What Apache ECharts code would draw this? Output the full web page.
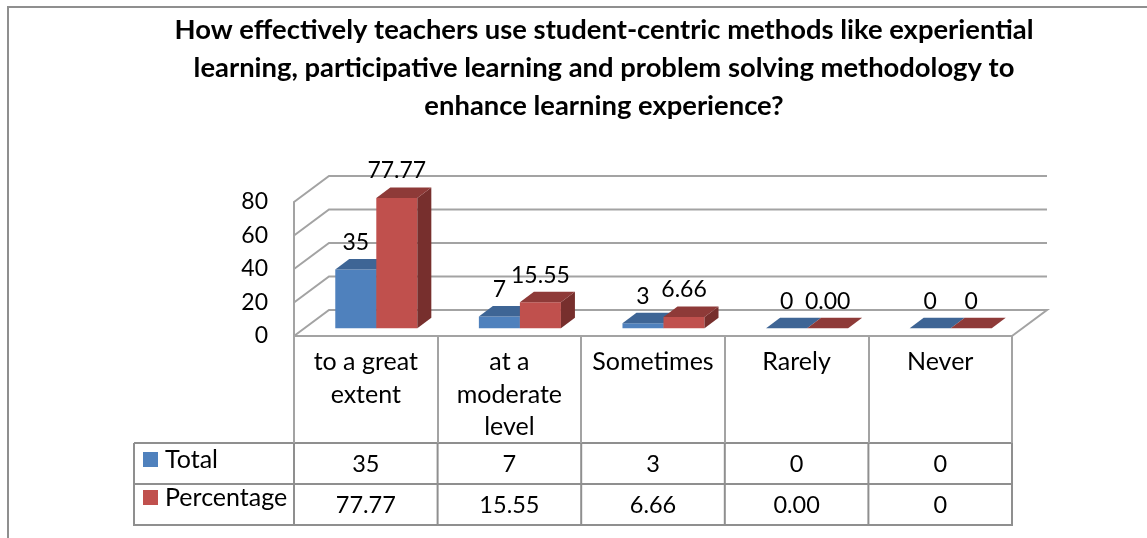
<!DOCTYPE html>
<html>
<head>
<meta charset="utf-8">
<title>Student-centric methods</title>
<script src="https://cdn.jsdelivr.net/npm/echarts@6/dist/echarts.min.js"></script>
<style>
	html, body { margin: 0; padding: 0; background: #fff; }
	#chart { width: 1147px; height: 538px; }
</style>
</head>
<body>
<div id="chart"></div>
<script>
'use strict';
var categories = ['to a great\nextent', 'at a\nmoderate\nlevel', 'Sometimes', 'Rarely', 'Never'],
		totalValues = [35, 7, 3, 0, 0],
		percentValues = [77.77, 15.55, 6.66, 0, 0],
		totalLabels = ['35', '7', '3', '0', '0'],
		percentLabels = ['77.77', '15.55', '6.66', '0.00', '0'],
		yTicks = [0, 20, 40, 60, 80];

var fontName = 'Lato',
		gridColor = '#a3a3a3',
		tableColor = '#8f8f8f',
		wallX = 35,
		wallY = 26,
		barDepthX = 14,
		barDepthY = 10.5,
		barRatio = 0.2857,
		row1Y = 464,
		row2Y = 505,
		gridLeft = 294,
		gridRight = 1012;

// Floor and back wall gridlines, sheared off the real y axis.
function renderWall(params, api) {
	var p = api.coord([0, api.value(0)]),
			band = api.size([1, 0])[0],
			left = p[0] - band / 2,
			right = left + band * categories.length,
			y = p[1],
			points = [[left, y], [left + wallX, y - wallY], [right + wallX, y - wallY]];

	if (api.value(0) === 0) {
		points.push([right, y]);
	}

	return {
		type: 'polyline',
		shape: {points: points},
		style: {fill: null, stroke: gridColor, lineWidth: 2}
	};
}

function makeBarRenderer(slot, front, side, top, labels) {
	return function (params, api) {
		var base = api.coord([api.value(0), 0]),
				peak = api.coord([api.value(0), api.value(1)]),
				band = api.size([1, 0])[0],
				w = band * barRatio,
				// the bars stand in the middle of the floor depth
				x = base[0] + wallX * 0.3 - w + slot * w,
				bottom = base[1] - wallY * 0.3,
				y = peak[1] - wallY * 0.3,
				h = bottom - y,
				children = [];

		if (h > 0) {
			children.push({
				type: 'rect',
				shape: {x: x, y: y, width: w, height: h},
				style: {fill: front}
			});
			children.push({
				type: 'polygon',
				shape: {points: [[x + w, y], [x + w + barDepthX, y - barDepthY], [x + w + barDepthX, bottom - barDepthY], [x + w, bottom]]},
				style: {fill: side}
			});
		}
		children.push({
			type: 'polygon',
			shape: {points: [[x, y], [x + barDepthX, y - barDepthY], [x + w + barDepthX, y - barDepthY], [x + w, y]]},
			style: {fill: top}
		});
		children.push({
			type: 'text',
			z2: 10,
			style: {
				text: labels[params.dataIndex],
				x: x + w / 2,
				y: y - 27,
				fill: '#000',
				font: '23px ' + fontName,
				align: 'center',
				verticalAlign: 'middle'
			}
		});

		return {type: 'group', children: children};
	};
}

// Values in the data table under each category.
function renderTableRow(labels, rowY) {
	return function (params, api) {
		return {
			type: 'text',
			style: {
				text: labels[params.dataIndex],
				x: api.coord([api.value(0), 0])[0],
				y: rowY,
				fill: '#000',
				font: '23.5px ' + fontName,
				align: 'center',
				verticalAlign: 'middle'
			}
		};
	};
}

function toPairs(values) {
	return values.map(function (v, i) {
		return [i, v];
	});
}

function hLine(x1, x2, y) {
	return {
		type: 'line',
		silent: true,
		shape: {x1: x1, y1: y, x2: x2, y2: y},
		style: {stroke: tableColor, lineWidth: 2}
	};
}

function vLine(x, y1, y2) {
	return {
		type: 'line',
		silent: true,
		shape: {x1: x, y1: y1, x2: x, y2: y2},
		style: {stroke: tableColor, lineWidth: 2}
	};
}

var tableLines = [
	// data table frame
	hLine(134, gridRight, 443),
	hLine(134, gridRight, 484),
	hLine(134, gridRight, 525),
	vLine(134, 443, 526),
	// outer chart border
	hLine(8, 1147, 7),
	vLine(8, 6, 538)
];

// the row part of the table is a darker grey than the ticks above it
for (var c = 0; c <= categories.length; c++) {
	var colX = gridLeft + c * (gridRight - gridLeft) / categories.length;
	tableLines.push(vLine(colX, 443, 526));
}

var chart = echarts.init(document.getElementById('chart'));

chart.setOption({
	animation: false,
	backgroundColor: '#fff',
	title: {
		text: 'How effectively teachers use student-centric methods like experiential\nlearning, participative learning and problem solving methodology to\nenhance learning experience?',
		left: 599,
		top: 6,
		textAlign: 'center',
		textStyle: {
			fontFamily: fontName,
			fontWeight: 'bold',
			fontSize: 27.4,
			lineHeight: 38,
			color: '#000'
		}
	},
	legend: {
		orient: 'vertical',
		left: 143,
		top: 447,
		padding: 0,
		itemWidth: 15,
		itemHeight: 15,
		itemGap: 13,
		icon: 'rect',
		data: ['Total', 'Percentage'],
		textStyle: {
			fontFamily: fontName,
			fontSize: 25,
			color: '#000',
			padding: [0, 0, 0, 2]
		}
	},
	grid: {
		left: gridLeft,
		right: 1147 - gridRight,
		top: 202,
		bottom: 202
	},
	xAxis: {
		type: 'category',
		data: categories,
		axisLine: {lineStyle: {color: gridColor, width: 2}},
		axisTick: {
			show: true,
			length: 107,
			lineStyle: {color: gridColor, width: 2}
		},
		axisLabel: {
			interval: 0,
			fontFamily: fontName,
			fontSize: 25,
			lineHeight: 32.5,
			color: '#000',
			margin: 10,
			verticalAlign: 'top'
		}
	},
	yAxis: {
		type: 'value',
		min: 0,
		max: 80,
		interval: 20,
		splitLine: {show: false},
		axisLine: {show: true, lineStyle: {color: gridColor, width: 2}},
		axisTick: {show: false},
		axisLabel: {
			fontFamily: fontName,
			fontSize: 23,
			color: '#000',
			margin: 26,
			padding: [6, 0, 0, 0]
		}
	},
	series: [
		{
			type: 'custom',
			name: 'wall',
			coordinateSystem: 'cartesian2d',
			renderItem: renderWall,
			data: yTicks.map(function (v) { return [v]; }),
			encode: {y: 0},
			z: 1,
			silent: true
		},
		{
			type: 'custom',
			name: 'Total',
			renderItem: makeBarRenderer(0, '#4f81bd', '#385d8a', '#3e6595', totalLabels),
			data: toPairs(totalValues),
			encode: {x: 0, y: 1},
			itemStyle: {color: '#4f81bd'},
			z: 2
		},
		{
			type: 'custom',
			name: 'Percentage',
			renderItem: makeBarRenderer(1, '#c0504d', '#772f2d', '#8e3a38', percentLabels),
			data: toPairs(percentValues),
			encode: {x: 0, y: 1},
			itemStyle: {color: '#c0504d'},
			z: 3
		},
		{
			type: 'custom',
			name: 'rowTotal',
			renderItem: renderTableRow(totalLabels, row1Y),
			data: toPairs(totalValues),
			encode: {x: 0, y: 1},
			z: 4,
			silent: true
		},
		{
			type: 'custom',
			name: 'rowPercentage',
			renderItem: renderTableRow(percentLabels, row2Y),
			data: toPairs(percentValues),
			encode: {x: 0, y: 1},
			z: 4,
			silent: true
		}
	],
	graphic: tableLines
});
</script>
</body>
</html>
